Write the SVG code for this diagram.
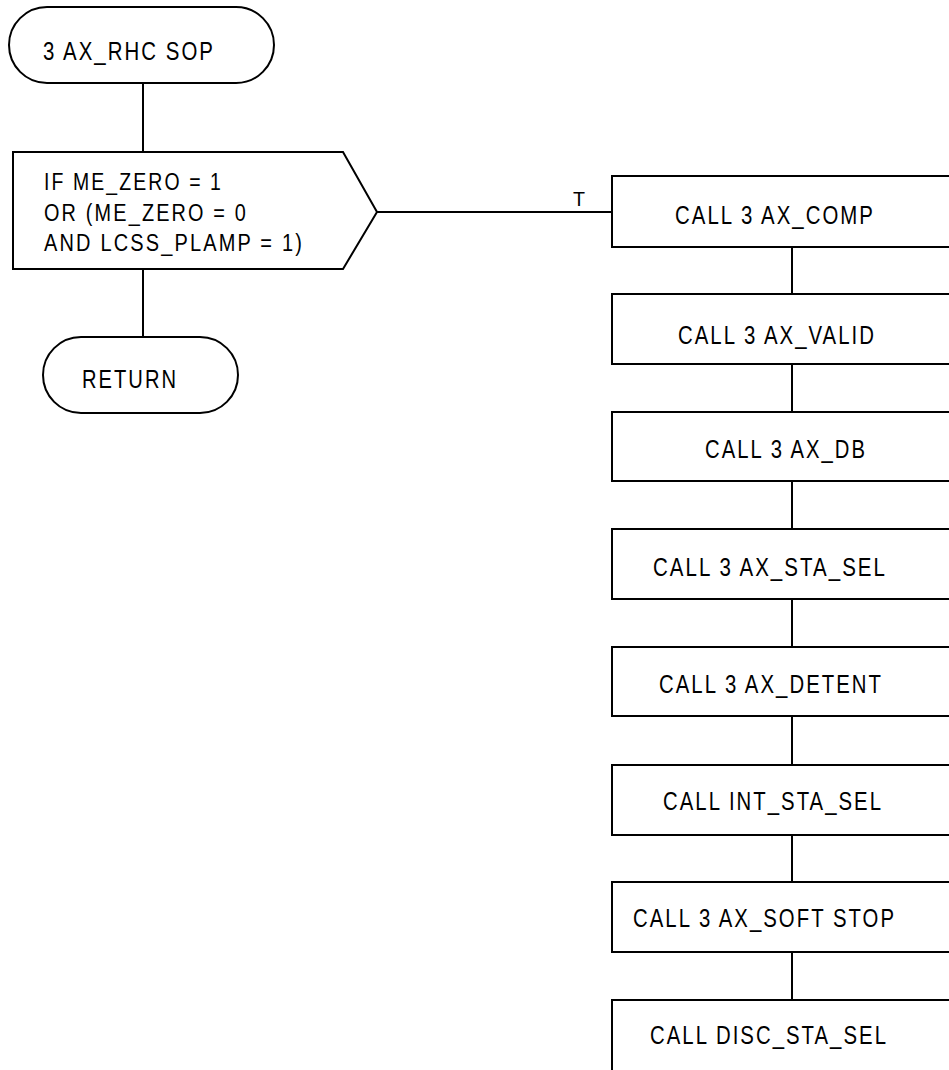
<svg xmlns="http://www.w3.org/2000/svg" width="949" height="1070" viewBox="0 0 949 1070">
<style>
.s{fill:#fff;stroke:#000;stroke-width:2}
.c{fill:none;stroke:#000;stroke-width:2}
text{font-family:"Liberation Sans",Arial,sans-serif;font-size:25px;letter-spacing:2.5px;fill:#000}
.l{font-size:23px}
.t{font-size:20px;letter-spacing:0}
</style>
<rect width="949" height="1070" fill="#fff"/>
<g id="connectors">
<line class="c" x1="143" y1="83" x2="143" y2="152"/>
<line class="c" x1="143" y1="269" x2="143" y2="337"/>
<line class="c" x1="377" y1="212" x2="612" y2="212"/>
<line class="c" x1="792" y1="247" x2="792" y2="294"/>
<line class="c" x1="792" y1="364" x2="792" y2="412"/>
<line class="c" x1="792" y1="481" x2="792" y2="529"/>
<line class="c" x1="792" y1="599" x2="792" y2="647"/>
<line class="c" x1="792" y1="716" x2="792" y2="765"/>
<line class="c" x1="792" y1="835" x2="792" y2="882"/>
<line class="c" x1="792" y1="952" x2="792" y2="1000"/>
<text class="t" x="573" y="206" textLength="12" lengthAdjust="spacingAndGlyphs">T</text>
</g>
<g id="start">
<rect class="s" x="9" y="7" width="265" height="76" rx="38" ry="38"/>
<text x="43" y="60" textLength="172" lengthAdjust="spacingAndGlyphs">3 AX_RHC SOP</text>
</g>
<g id="decision">
<polygon class="s" points="13,152 343,152 377,212 343,269 13,269"/>
<text class="l" x="44" y="190" textLength="179" lengthAdjust="spacingAndGlyphs">IF ME_ZERO = 1</text>
<text class="l" x="44" y="221" textLength="204" lengthAdjust="spacingAndGlyphs">OR (ME_ZERO = 0</text>
<text class="l" x="44" y="251" textLength="260" lengthAdjust="spacingAndGlyphs">AND LCSS_PLAMP = 1)</text>
</g>
<g id="return">
<rect class="s" x="43" y="337" width="195" height="76" rx="38" ry="38"/>
<text x="82" y="388" textLength="96" lengthAdjust="spacingAndGlyphs">RETURN</text>
</g>
<g id="comp">
<rect class="s" x="612" y="176" width="360" height="71"/>
<text x="675" y="224" textLength="200" lengthAdjust="spacingAndGlyphs">CALL 3 AX_COMP</text>
</g>
<g id="valid">
<rect class="s" x="612" y="294" width="360" height="70"/>
<text x="678" y="344" textLength="198" lengthAdjust="spacingAndGlyphs">CALL 3 AX_VALID</text>
</g>
<g id="db">
<rect class="s" x="612" y="412" width="360" height="69"/>
<text x="705" y="458" textLength="162" lengthAdjust="spacingAndGlyphs">CALL 3 AX_DB</text>
</g>
<g id="stasel">
<rect class="s" x="612" y="529" width="360" height="70"/>
<text x="653" y="576" textLength="234" lengthAdjust="spacingAndGlyphs">CALL 3 AX_STA_SEL</text>
</g>
<g id="detent">
<rect class="s" x="612" y="647" width="360" height="69"/>
<text x="659" y="693" textLength="224" lengthAdjust="spacingAndGlyphs">CALL 3 AX_DETENT</text>
</g>
<g id="intsta">
<rect class="s" x="612" y="765" width="360" height="70"/>
<text x="663" y="810" textLength="220" lengthAdjust="spacingAndGlyphs">CALL INT_STA_SEL</text>
</g>
<g id="softstop">
<rect class="s" x="612" y="882" width="360" height="70"/>
<text x="633" y="927" textLength="263" lengthAdjust="spacingAndGlyphs">CALL 3 AX_SOFT STOP</text>
</g>
<g id="discsta">
<rect class="s" x="612" y="1000" width="360" height="80"/>
<text x="650" y="1044" textLength="238" lengthAdjust="spacingAndGlyphs">CALL DISC_STA_SEL</text>
</g>
</svg>
